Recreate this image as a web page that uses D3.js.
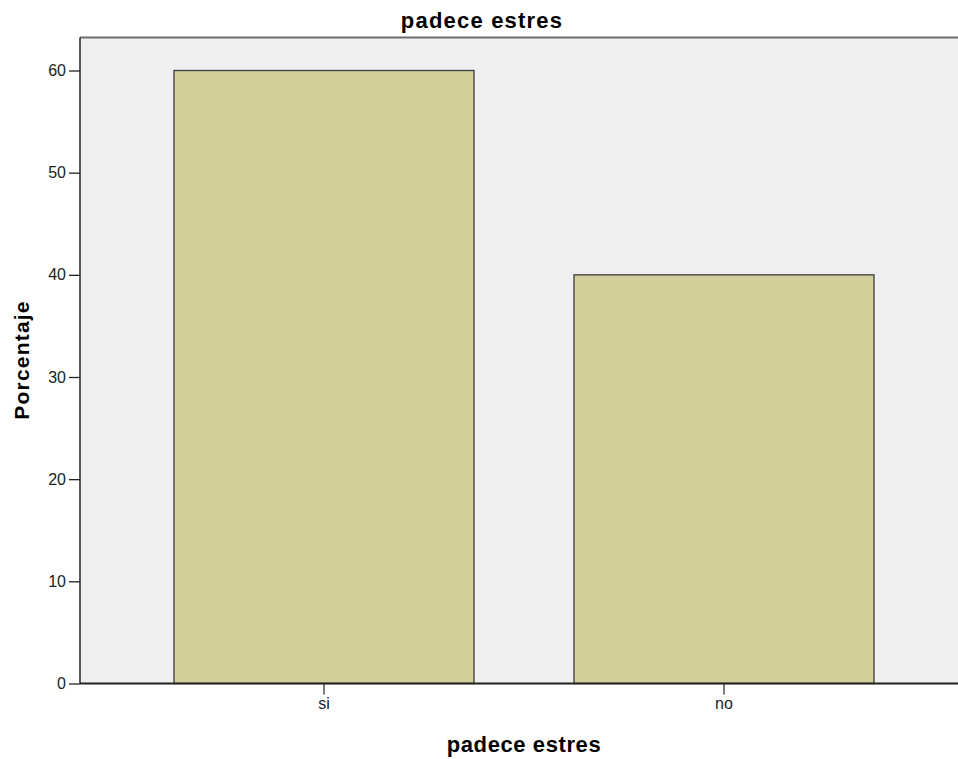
<!DOCTYPE html>
<html><head><meta charset="utf-8">
<script src="https://cdn.jsdelivr.net/npm/d3@7"></script>
<style>body{margin:0;background:#fff}svg{display:block}</style>
</head><body>
<svg id="c" width="958" height="759"></svg>
<script>
const categories = ["si", "no"];
const values = [60, 40];
const yTicks = [0, 10, 20, 30, 40, 50, 60];
const title = "padece estres";
const xTitle = "padece estres";
const yTitle = "Porcentaje";

(function () {
const svg = d3.select("#c");
const font = "'Liberation Sans', Arial, sans-serif";
const pL = 80, pR = 958, pT = 37.5, pB = 683.5;

const x = d3.scaleBand().domain(categories).range([124, 924]).paddingInner(0.25).paddingOuter(0.125);
const y = d3.scaleLinear().domain([0, 60]).range([pB, 70.5]);

svg.append("rect").attr("x", pL).attr("y", pT).attr("width", pR - pL).attr("height", pB - pT).attr("fill", "#efefef");
svg.append("line").attr("x1", pL).attr("x2", pR).attr("y1", pT).attr("y2", pT).attr("stroke", "#6e6e6e").attr("stroke-width", 2);

svg.selectAll("rect.bar").data(categories).enter().append("rect").attr("class", "bar")
  .attr("x", d => x(d)).attr("width", x.bandwidth())
  .attr("y", (d, i) => y(values[i])).attr("height", (d, i) => y(0) - y(values[i]))
  .attr("fill", "#d3ce9a").attr("stroke", "#3c3c3c").attr("stroke-width", 1.3);

const ya = svg.append("g").attr("transform", `translate(${pL},0)`)
  .call(d3.axisLeft(y).tickValues(yTicks).tickSize(11).tickPadding(3));
ya.select(".domain").attr("d", `M0,${pT}V${pB}`).attr("stroke", "#222").attr("stroke-width", 1.5);
ya.selectAll(".tick line").attr("stroke", "#222").attr("stroke-width", 1.3);
ya.selectAll(".tick text").attr("font-family", font).attr("font-size", 16).attr("fill", "#222");

const xa = svg.append("g").attr("transform", `translate(0,${pB})`)
  .call(d3.axisBottom(x).tickSize(11).tickPadding(3));
xa.select(".domain").attr("d", `M${pL},0H${pR}`).attr("stroke", "#222").attr("stroke-width", 2);
xa.selectAll(".tick line").attr("stroke", "#333").attr("stroke-width", 1.3);
xa.selectAll(".tick text").attr("font-family", font).attr("font-size", 16).attr("fill", "#222");

svg.append("text").attr("x", 482).attr("y", 28).attr("text-anchor", "middle").attr("letter-spacing", 1.2)
  .attr("font-family", font).attr("font-weight", "bold").attr("font-size", 22).attr("fill", "#000").text(title);
svg.append("text").attr("x", 524).attr("y", 752).attr("text-anchor", "middle").attr("letter-spacing", 0.6)
  .attr("font-family", font).attr("font-weight", "bold").attr("font-size", 22).attr("fill", "#000").text(xTitle);
svg.append("text").attr("transform", "translate(29,360) rotate(-90)").attr("text-anchor", "middle").attr("letter-spacing", 1.2)
  .attr("font-family", font).attr("font-weight", "bold").attr("font-size", 21).attr("fill", "#000").text(yTitle);
})();
</script>
</body></html>
